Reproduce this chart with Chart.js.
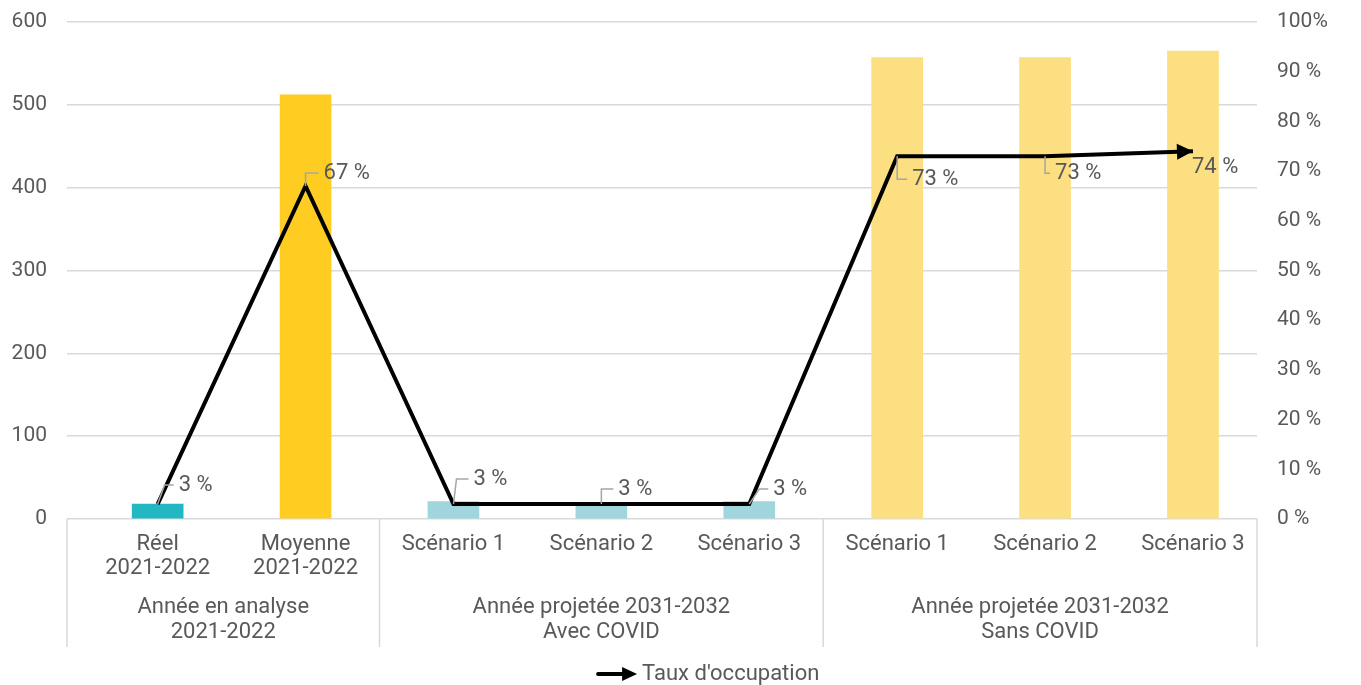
<!DOCTYPE html>
<html>
<head>
<meta charset="utf-8">
<script src="https://cdn.jsdelivr.net/npm/chart.js@4.4.0/dist/chart.umd.min.js"></script>
<style>
html,body{margin:0;padding:0;background:#fff;}
#wrap{width:1361px;height:685px;position:relative;}
</style>
</head>
<body>
<div id="wrap"><canvas id="c"></canvas></div>
<script>
// ---- Data ----
const categories = [
  ['Réel', '2021-2022'],
  ['Moyenne', '2021-2022'],
  ['Scénario 1'],
  ['Scénario 2'],
  ['Scénario 3'],
  ['Scénario 1'],
  ['Scénario 2'],
  ['Scénario 3']
];
const groupLabels = [
  ['Année en analyse', '2021-2022'],
  ['Année projetée 2031-2032', 'Avec COVID'],
  ['Année projetée 2031-2032', 'Sans COVID']
];
const groupSizes = [2, 3, 3];
const barValues = [18, 512, 21, 20, 21, 557, 557, 565];
const occupancyRate = [3, 67, 3, 3, 3, 73, 73, 74];
const leftTicks = [0, 100, 200, 300, 400, 500, 600];
const rightTicks = [0, 10, 20, 30, 40, 50, 60, 70, 80, 90, 100];
const lineLabel = "Taux d'occupation";

// ---- Styles ----
const barColors = ['#22b7c3', '#ffcc22', '#a0d5dd', '#a0d5dd', '#a0d5dd', '#fcdf80', '#fcdf80', '#fcdf80'];
const textColor = '#595959';
const gridColor = '#d9d9d9';
const fontFamily = 'Roboto, "Noto Sans", sans-serif';
const tickSize = 21;
const labelSize = 22;
// label offsets relative to point: [textDx, textDy, elbowDx, showLeader]
const labelOffsets = [
  [21, -19, 7, true],
  [18, -13, 0, true],
  [20, -25, 3, true],
  [17, -15, 0, true],
  [24, -15, 10, true],
  [15, 23, 0, true],
  [10, 17, 0, true],
  [-1, 16, 0, false]
];

function drawArrowHead(ctx, x0, y0, x1, y1, len, half) {
  const ang = Math.atan2(y1 - y0, x1 - x0);
  ctx.beginPath();
  ctx.moveTo(x1, y1);
  ctx.lineTo(x1 - len * Math.cos(ang) + half * Math.sin(ang), y1 - len * Math.sin(ang) - half * Math.cos(ang));
  ctx.lineTo(x1 - len * Math.cos(ang) - half * Math.sin(ang), y1 - len * Math.sin(ang) + half * Math.cos(ang));
  ctx.closePath();
  ctx.fill();
}

const arrowPlugin = {
  id: 'arrowEnd',
  afterDatasetsDraw(chart) {
    const pts = chart.getDatasetMeta(0).data;
    if (pts.length < 2) return;
    const a = pts[pts.length - 2], b = pts[pts.length - 1];
    const ctx = chart.ctx;
    ctx.save();
    ctx.fillStyle = '#000';
    drawArrowHead(ctx, a.x, a.y, b.x, b.y, 16, 8);
    ctx.restore();
  }
};

const labelPlugin = {
  id: 'lineLabels',
  afterDatasetsDraw(chart) {
    const meta = chart.getDatasetMeta(0);
    const ctx = chart.ctx;
    ctx.save();
    ctx.font = labelSize + 'px ' + fontFamily;
    ctx.textBaseline = 'middle';
    ctx.textAlign = 'left';
    meta.data.forEach((p, i) => {
      const [tx, ty, ex, leader] = labelOffsets[i];
      if (leader) {
        ctx.strokeStyle = '#a6a6a6';
        ctx.lineWidth = 1.5;
        ctx.beginPath();
        ctx.moveTo(p.x, p.y);
        ctx.lineTo(p.x + ex, p.y + ty);
        ctx.lineTo(p.x + tx - 5, p.y + ty);
        ctx.stroke();
      }
      ctx.fillStyle = textColor;
      ctx.fillText(occupancyRate[i] + ' %', p.x + tx, p.y + ty);
    });
    ctx.restore();
  }
};

const groupPlugin = {
  id: 'groups',
  afterDraw(chart) {
    const xs = chart.scales.x;
    const ctx = chart.ctx;
    const area = chart.chartArea;
    const bottom = area.bottom + 128;
    ctx.save();
    ctx.strokeStyle = gridColor;
    ctx.lineWidth = 1.5;
    ctx.font = labelSize + 'px ' + fontFamily;
    ctx.fillStyle = textColor;
    ctx.textAlign = 'center';
    ctx.textBaseline = 'middle';
    let idx = 0;
    groupSizes.forEach((n, g) => {
      const left = g === 0 ? area.left : (xs.getPixelForValue(idx - 1) + xs.getPixelForValue(idx)) / 2;
      const last = idx + n - 1;
      const right = g === groupSizes.length - 1 ? area.right : (xs.getPixelForValue(last) + xs.getPixelForValue(last + 1)) / 2;
      ctx.beginPath(); ctx.moveTo(left, area.bottom); ctx.lineTo(left, bottom); ctx.stroke();
      if (g === groupSizes.length - 1) {
        ctx.beginPath(); ctx.moveTo(right, area.bottom); ctx.lineTo(right, bottom); ctx.stroke();
      }
      const cx = (left + right) / 2;
      groupLabels[g].forEach((t, k) => ctx.fillText(t, cx, area.bottom + 88 + k * 25));
      idx += n;
    });

    // legend
    const ly = area.bottom + 155;
    const tw = ctx.measureText(lineLabel).width;
    const iconW = 41, gap = 5;
    const total = iconW + gap + tw;
    const startX = chart.width * 0.52 - total / 2;
    ctx.strokeStyle = '#000'; ctx.fillStyle = '#000'; ctx.lineWidth = 4; ctx.lineCap = 'round';
    ctx.beginPath(); ctx.moveTo(startX + 2, ly); ctx.lineTo(startX + 28, ly); ctx.stroke();
    drawArrowHead(ctx, startX, ly, startX + iconW, ly, 15, 7);
    ctx.fillStyle = textColor;
    ctx.textAlign = 'left';
    ctx.fillText(lineLabel, startX + iconW + gap, ly);
    ctx.restore();
  }
};

Chart.defaults.font.family = fontFamily;
Chart.defaults.color = textColor;

const maxIdx = categories.length - 1;

new Chart(document.getElementById('c'), {
  data: {
    datasets: [
      {
        type: 'line',
        label: lineLabel,
        data: occupancyRate.map((v, i) => ({ x: i, y: v })),
        yAxisID: 'y1',
        borderColor: '#000',
        backgroundColor: '#000',
        borderWidth: 4,
        pointRadius: 0,
        tension: 0,
        order: 0
      },
      {
        type: 'bar',
        label: 'Bars',
        data: barValues.map((v, i) => ({ x: i, y: v })),
        yAxisID: 'y',
        backgroundColor: barColors,
        barThickness: 51,
        order: 1
      }
    ]
  },
  plugins: [arrowPlugin, labelPlugin, groupPlugin],
  options: {
    responsive: true,
    maintainAspectRatio: false,
    animation: false,
    layout: { padding: { left: 12, right: 34, top: 22, bottom: 34 } },
    plugins: {
      tooltip: { enabled: false },
      legend: { display: false }
    },
    scales: {
      x: {
        type: 'linear',
        offset: false,
        min: -0.613,
        max: maxIdx + 0.433,
        afterBuildTicks: (s) => { s.ticks = categories.map((_, i) => ({ value: i })); },
        grid: { display: false, drawTicks: false, offset: false },
        border: { display: false },
        ticks: {
          color: textColor, maxRotation: 0, autoSkip: false, padding: 14,
          font: { size: labelSize, lineHeight: 1.08 },
          callback: (v) => categories[v]
        },
        afterFit: (s) => { s.height = 132; s.paddingLeft = 0; s.paddingRight = 0; }
      },
      y: {
        position: 'left',
        min: 0, max: 600,
        afterBuildTicks: (s) => { s.ticks = leftTicks.map(v => ({ value: v })); },
        grid: { color: gridColor, lineWidth: 1.5, drawTicks: false },
        border: { display: false },
        ticks: { color: textColor, padding: 20, font: { size: tickSize } },
        afterFit: (s) => { s.paddingTop = 0; s.paddingBottom = 0; s.width = 55; }
      },
      y1: {
        position: 'right',
        min: 0, max: 100,
        afterBuildTicks: (s) => { s.ticks = rightTicks.map(v => ({ value: v })); },
        grid: { display: false, drawTicks: false },
        border: { display: false },
        ticks: {
          color: textColor, padding: 20, font: { size: tickSize },
          callback: (v) => v === 100 ? v + '%' : v + ' %'
        },
        afterFit: (s) => { s.paddingTop = 0; s.paddingBottom = 0; s.width = 70; }
      }
    }
  }
});
</script>
</body>
</html>
